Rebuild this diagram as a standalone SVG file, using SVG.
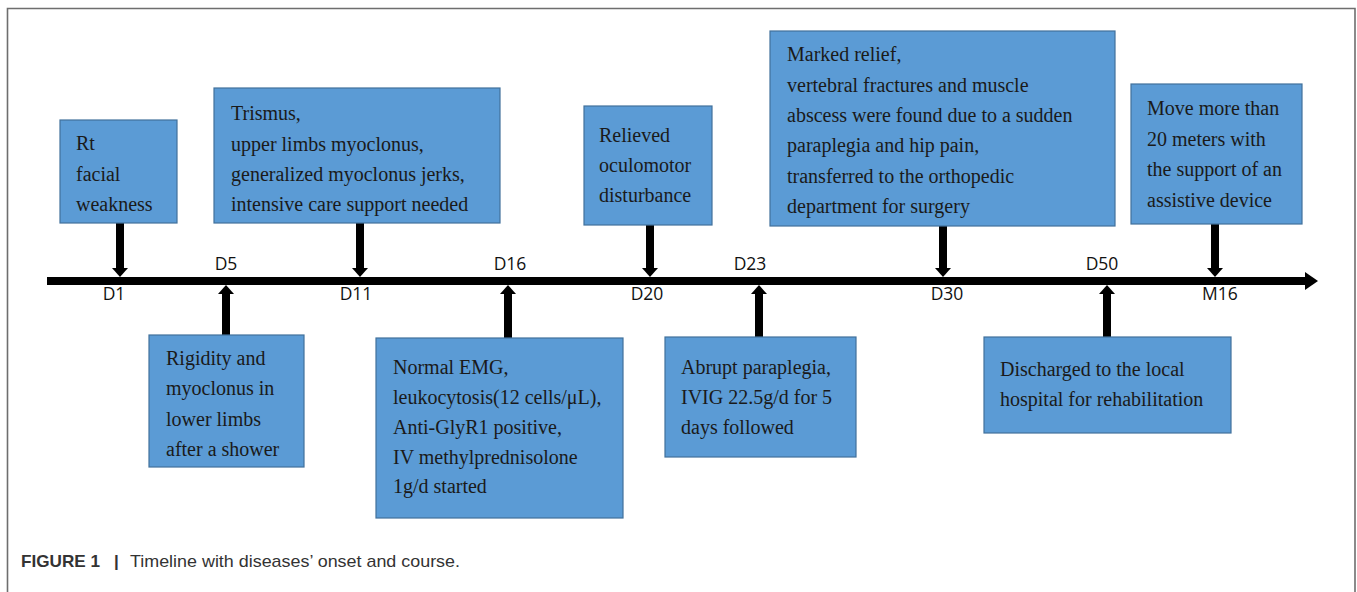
<svg xmlns="http://www.w3.org/2000/svg" width="1357" height="592" viewBox="0 0 1357 592">
<style>
.box{fill:#5b9bd5;stroke:#41719c;stroke-width:1.2}
.bt{font-family:"Liberation Serif","Times New Roman",serif;font-size:20px;fill:#1a1a1a}
.lb{font-family:"Open Sans","Liberation Sans",sans-serif;font-size:17.5px;fill:#111;text-anchor:middle}
.ar{stroke:#000;stroke-width:8;fill:none}
.cap{font-family:"Liberation Sans",Arial,sans-serif;font-size:17px;fill:#333}
</style>
<defs>
<marker id="ah" viewBox="0 0 9 16" refX="0" refY="8" markerWidth="9" markerHeight="16" markerUnits="userSpaceOnUse" orient="auto"><path d="M0,0L9,8L0,16Z" fill="#000"/></marker>
<marker id="ahl" viewBox="0 0 13 18" refX="0" refY="9" markerWidth="13" markerHeight="18" markerUnits="userSpaceOnUse" orient="auto"><path d="M0,0L13,9L0,18Z" fill="#000"/></marker>
</defs>
<rect width="1357" height="592" fill="#fff"/>
<path d="M7.5,592V8.5H1355V592" fill="none" stroke="#6e6e6e" stroke-width="1.6"/>

<g id="connectors">
<line class="ar" x1="47" y1="281" x2="1305" y2="281" marker-end="url(#ahl)"/>
<line class="ar" x1="120" y1="223" x2="120" y2="268" marker-end="url(#ah)"/>
<line class="ar" x1="360" y1="223" x2="360" y2="268" marker-end="url(#ah)"/>
<line class="ar" x1="650" y1="225" x2="650" y2="268" marker-end="url(#ah)"/>
<line class="ar" x1="943" y1="226" x2="943" y2="268" marker-end="url(#ah)"/>
<line class="ar" x1="1215" y1="224" x2="1215" y2="268" marker-end="url(#ah)"/>
<line class="ar" x1="226" y1="335" x2="226" y2="294" marker-end="url(#ah)"/>
<line class="ar" x1="508" y1="338" x2="508" y2="294" marker-end="url(#ah)"/>
<line class="ar" x1="759" y1="337" x2="759" y2="294" marker-end="url(#ah)"/>
<line class="ar" x1="1107" y1="337" x2="1107" y2="294" marker-end="url(#ah)"/>
</g>

<g id="labels">
<text class="lb" x="114" y="300">D1</text>
<text class="lb" x="226" y="270">D5</text>
<text class="lb" x="356" y="300">D11</text>
<text class="lb" x="510" y="270">D16</text>
<text class="lb" x="647" y="300">D20</text>
<text class="lb" x="750" y="270">D23</text>
<text class="lb" x="947" y="300">D30</text>
<text class="lb" x="1102" y="270">D50</text>
<text class="lb" x="1220" y="300">M16</text>
</g>

<g id="n-d1">
<rect class="box" x="60" y="120" width="117" height="103"/>
<text class="bt"><tspan x="76" y="150">Rt</tspan><tspan x="76" y="180.5">facial</tspan><tspan x="76" y="211">weakness</tspan></text>
</g>
<g id="n-d11">
<rect class="box" x="214" y="88" width="286" height="135"/>
<text class="bt"><tspan x="231" y="120">Trismus,</tspan><tspan x="231" y="150.5">upper limbs myoclonus,</tspan><tspan x="231" y="181">generalized myoclonus jerks,</tspan><tspan x="231" y="211">intensive care support needed</tspan></text>
</g>
<g id="n-d20">
<rect class="box" x="584" y="106" width="128" height="119"/>
<text class="bt"><tspan x="599" y="142">Relieved</tspan><tspan x="599" y="172">oculomotor</tspan><tspan x="599" y="202">disturbance</tspan></text>
</g>
<g id="n-d30">
<rect class="box" x="770" y="31" width="345" height="195"/>
<text class="bt"><tspan x="787" y="61">Marked relief,</tspan><tspan x="787" y="91.5">vertebral fractures and muscle</tspan><tspan x="787" y="122">abscess were found due to a sudden</tspan><tspan x="787" y="152">paraplegia and hip pain,</tspan><tspan x="787" y="182.5">transferred to the orthopedic</tspan><tspan x="787" y="213">department for surgery</tspan></text>
</g>
<g id="n-m16">
<rect class="box" x="1131" y="84" width="171" height="140"/>
<text class="bt"><tspan x="1147" y="115">Move more than</tspan><tspan x="1147" y="145.5">20 meters with</tspan><tspan x="1147" y="176">the support of an</tspan><tspan x="1147" y="206.5">assistive device</tspan></text>
</g>
<g id="n-d5">
<rect class="box" x="149" y="335" width="155" height="132"/>
<text class="bt"><tspan x="166" y="365">Rigidity and</tspan><tspan x="166" y="395">myoclonus in</tspan><tspan x="166" y="426">lower limbs</tspan><tspan x="166" y="456">after a shower</tspan></text>
</g>
<g id="n-d16">
<rect class="box" x="376" y="338" width="247" height="180"/>
<text class="bt"><tspan x="393" y="374">Normal EMG,</tspan><tspan x="393" y="403.5">leukocytosis(12 cells/μL),</tspan><tspan x="393" y="433.5">Anti-GlyR1 positive,</tspan><tspan x="393" y="463.5">IV methylprednisolone</tspan><tspan x="393" y="493">1g/d started</tspan></text>
</g>
<g id="n-d23">
<rect class="box" x="665" y="337" width="191" height="120"/>
<text class="bt"><tspan x="681" y="373.5">Abrupt paraplegia,</tspan><tspan x="681" y="403.5">IVIG 22.5g/d for 5</tspan><tspan x="681" y="433.5">days followed</tspan></text>
</g>
<g id="n-d50">
<rect class="box" x="984" y="337" width="247" height="96"/>
<text class="bt"><tspan x="1000" y="376">Discharged to the local</tspan><tspan x="1000" y="406">hospital for rehabilitation</tspan></text>
</g>

<g id="caption">
<text class="cap" x="21" y="567" font-weight="bold" textLength="79" lengthAdjust="spacingAndGlyphs">FIGURE 1</text>
<text class="cap" x="114" y="567" font-weight="bold">|</text>
<text class="cap" x="130" y="567" textLength="330" lengthAdjust="spacingAndGlyphs">Timeline with diseases’ onset and course.</text>
</g>
</svg>
